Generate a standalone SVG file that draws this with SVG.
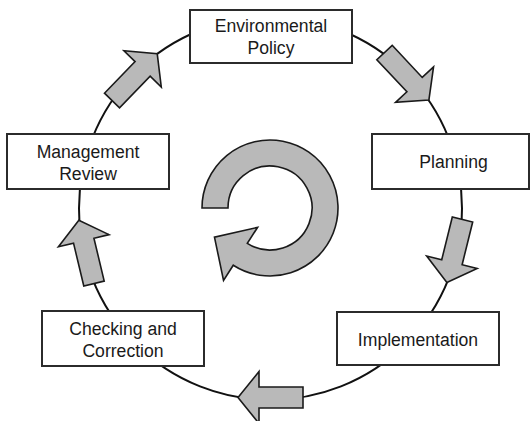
<svg xmlns="http://www.w3.org/2000/svg" width="531" height="421" viewBox="0 0 531 421">
  <defs>
    <style>
      .box { fill: #ffffff; stroke: #2b2b2b; stroke-width: 2; }
      .lbl { font-family: "Liberation Sans", Arial, sans-serif; font-size: 17.6px; fill: #1a1a1a; text-anchor: middle; }
      .ring { fill: none; stroke: #111111; stroke-width: 2; }
      .arr { fill: #b9b9b9; stroke: #1a1a1a; stroke-width: 1.6; stroke-linejoin: miter; }
    </style>
    <path id="blockArrow" d="M0,-10.5 L44,-10.5 L44,-26 L65,0 L44,26 L44,10.5 L0,10.5 Z"/>
  </defs>
  <rect width="531" height="421" fill="#ffffff"/>

  <g id="connectors">
    <circle class="ring" cx="270.5" cy="208.3" r="191.5"/>
    <use href="#blockArrow" class="arr" transform="translate(112,100.5) rotate(-45.9)"/>
    <use href="#blockArrow" class="arr" transform="translate(384.5,52.5) rotate(46.9)"/>
    <use href="#blockArrow" class="arr" transform="translate(462.5,219.5) rotate(103.9)"/>
    <use href="#blockArrow" class="arr" transform="translate(303,397.5) rotate(180)"/>
    <use href="#blockArrow" class="arr" transform="translate(94,283.5) rotate(-103.5)"/>
  </g>

  <g id="center-cycle">
    <path class="arr" d="M202,208 A68,68 0 1 1 233.27,265.22 L223.54,280.37 L214.47,237.11 L257.58,227.35 L247.31,243.34 A42,42 0 1 0 228,208 Z"/>
  </g>

  <g id="node-environmental-policy">
    <rect class="box" x="190" y="10" width="162" height="53"/>
    <text class="lbl" x="271" y="32">Environmental</text>
    <text class="lbl" x="271" y="54">Policy</text>
  </g>

  <g id="node-planning">
    <rect class="box" x="372" y="134" width="157" height="55"/>
    <text class="lbl" x="453.5" y="168">Planning</text>
  </g>

  <g id="node-implementation">
    <rect class="box" x="337" y="312" width="162" height="53"/>
    <text class="lbl" x="418" y="345.5">Implementation</text>
  </g>

  <g id="node-checking-and-correction">
    <rect class="box" x="42" y="311" width="162" height="55"/>
    <text class="lbl" x="123" y="335">Checking and</text>
    <text class="lbl" x="123" y="356.7">Correction</text>
  </g>

  <g id="node-management-review">
    <rect class="box" x="7" y="134" width="162" height="55"/>
    <text class="lbl" x="88" y="157.7">Management</text>
    <text class="lbl" x="88" y="180">Review</text>
  </g>
</svg>
